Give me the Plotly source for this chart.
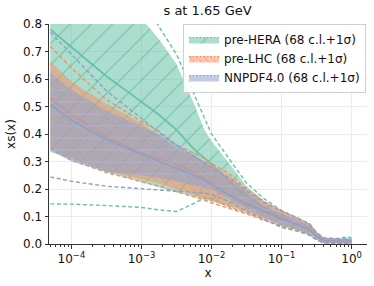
import plotly.graph_objects as go

# x grid (log spaced sample points)
X = [5e-5, 1e-4, 3.16e-4, 1e-3, 1.78e-3, 3.16e-3, 5.62e-3, 7.94e-3, 1e-2, 1.78e-2,
     3.16e-2, 5.62e-2, 0.1, 0.178, 0.251, 0.316, 0.398, 0.631, 0.891, 1.0]

X_TICKS = [1e-4, 1e-3, 1e-2, 1e-1, 1.0]
X_TICK_TEXT = ["10<sup>−4</sup>", "10<sup>−3</sup>", "10<sup>−2</sup>", "10<sup>−1</sup>", "10<sup>0</sup>"]

# pre-HERA
HERA_c   = [0.78, 0.715, 0.61, 0.517, 0.47, 0.415, 0.345, 0.312, 0.29, 0.23, 0.172, 0.132,
            0.095, 0.068, 0.052, 0.028, 0.012, 0.01, 0.014, 0.01]
HERA_lo  = [0.335, 0.31, 0.262, 0.225, 0.205, 0.188, 0.172, 0.162, 0.156, 0.138, 0.118, 0.092,
            0.068, 0.05, 0.035, 0.018, 0.005, 0.004, 0.006, 0.004]
HERA_hi  = [1.3, 1.15, 1.0, 0.82, 0.745, 0.655, 0.51, 0.415, 0.375, 0.295, 0.21, 0.157,
            0.118, 0.088, 0.07, 0.04, 0.02, 0.018, 0.024, 0.02]
HERA_slo = [0.146, 0.145, 0.14, 0.133, 0.124, 0.118, 0.148, 0.167, 0.166, 0.135, 0.113, 0.088,
            0.064, 0.047, 0.032, 0.016, 0.004, 0.003, 0.004, 0.003]
HERA_shi = [1.4, 1.25, 1.08, 0.9, 0.79, 0.69, 0.545, 0.455, 0.40, 0.31, 0.222, 0.165,
            0.122, 0.092, 0.073, 0.042, 0.022, 0.02, 0.026, 0.022]

# pre-LHC
LHC_c   = [0.53, 0.472, 0.39, 0.33, 0.31, 0.29, 0.262, 0.24, 0.222, 0.18, 0.148, 0.12,
           0.094, 0.069, 0.053, 0.029, 0.012, 0.011, 0.011, 0.009]
LHC_lo  = [0.35, 0.31, 0.265, 0.235, 0.22, 0.198, 0.178, 0.165, 0.156, 0.135, 0.115, 0.09,
           0.07, 0.052, 0.037, 0.02, 0.006, 0.005, 0.005, 0.004]
LHC_hi  = [0.664, 0.59, 0.51, 0.44, 0.395, 0.345, 0.32, 0.303, 0.287, 0.25, 0.195, 0.15,
           0.116, 0.086, 0.068, 0.038, 0.018, 0.016, 0.016, 0.014]
LHC_slo = [0.347, 0.305, 0.26, 0.228, 0.21, 0.19, 0.172, 0.16, 0.15, 0.13, 0.11, 0.086,
           0.067, 0.05, 0.035, 0.018, 0.005, 0.004, 0.004, 0.003]
LHC_shi = [0.719, 0.64, 0.525, 0.445, 0.41, 0.36, 0.33, 0.31, 0.293, 0.256, 0.2, 0.155,
           0.12, 0.089, 0.071, 0.04, 0.02, 0.017, 0.017, 0.015]

# NNPDF4.0
NN_c   = [0.506, 0.45, 0.38, 0.325, 0.30, 0.275, 0.25, 0.232, 0.215, 0.178, 0.145, 0.118,
          0.09, 0.068, 0.052, 0.029, 0.012, 0.011, 0.01, 0.009]
NN_lo  = [0.341, 0.30, 0.262, 0.25, 0.24, 0.228, 0.212, 0.204, 0.198, 0.165, 0.128, 0.098,
          0.066, 0.05, 0.036, 0.02, 0.006, 0.005, 0.005, 0.004]
NN_hi  = [0.625, 0.56, 0.485, 0.43, 0.40, 0.36, 0.325, 0.30, 0.28, 0.235, 0.19, 0.14,
          0.11, 0.085, 0.068, 0.038, 0.018, 0.017, 0.016, 0.014]
NN_slo = [0.244, 0.228, 0.21, 0.2, 0.196, 0.192, 0.188, 0.185, 0.18, 0.155, 0.12, 0.09,
          0.06, 0.045, 0.032, 0.016, 0.004, 0.003, 0.003, 0.003]
NN_shi = [0.77, 0.69, 0.557, 0.457, 0.405, 0.36, 0.317, 0.295, 0.28, 0.24, 0.195, 0.15,
          0.12, 0.092, 0.073, 0.042, 0.021, 0.019, 0.018, 0.016]

SETS = [
    ("pre-HERA (68 c.l.+1σ)", "#66c2a5", "rgba(102,194,165,0.55)", "#3f9c7f", "/", 15, 0.07,
     HERA_c, HERA_lo, HERA_hi, HERA_slo, HERA_shi),
    ("pre-LHC (68 c.l.+1σ)", "#fc8d62", "rgba(252,141,98,0.5)", "#fc8d62", "\\", 5, 0.2,
     LHC_c, LHC_lo, LHC_hi, LHC_slo, LHC_shi),
    ("NNPDF4.0 (68 c.l.+1σ)", "#8da0cb", "rgba(141,160,203,0.55)", "#a9b8dc", "-", 12, 0.1,
     NN_c, NN_lo, NN_hi, NN_slo, NN_shi),
]

FONT = "DejaVu Sans"

fig = go.Figure()
for name, col, fcol, hcol, shp, sz, sol, c, lo, hi, slo, shi in SETS:
    fig.add_trace(go.Scatter(x=X, y=lo, mode="lines", line=dict(width=0, color=col),
                             showlegend=False, hoverinfo="skip"))
    fig.add_trace(go.Scatter(x=X, y=hi, mode="lines", line=dict(width=0, color=col),
                             fill="tonexty", fillcolor=fcol,
                             fillpattern=dict(shape=shp, size=sz, solidity=sol,
                                              fgcolor=hcol, fillmode="overlay"),
                             showlegend=False, hoverinfo="skip"))
    fig.add_trace(go.Scatter(x=X, y=c, mode="lines", line=dict(width=1.7, color=col),
                             showlegend=False))
    for s in (slo, shi):
        fig.add_trace(go.Scatter(x=X, y=s, mode="lines",
                                 line=dict(width=1.4, color=col, dash="4px,2.5px"),
                                 showlegend=False))

# legend entries
for name, col, fcol, hcol, shp, sz, sol, *_ in SETS:
    fig.add_trace(go.Scatter(x=[None], y=[None], mode="lines", fill="toself",
                             fillcolor=fcol,
                             fillpattern=dict(shape=shp, size=sz, solidity=sol,
                                              fgcolor=hcol, fillmode="overlay"),
                             line=dict(color=col, width=1, dash="2px,1.5px"), name=name))

axis_common = dict(showline=True, linecolor="#333", linewidth=1, ticks="outside",
                   ticklen=3.5, tickcolor="#333", gridcolor="#ececec", gridwidth=0.8,
                   mirror=False, zeroline=False,
                   tickfont=dict(size=12, color="#111", family=FONT))

fig.update_xaxes(type="log", range=[-4.32, 0.22], tickvals=X_TICKS, ticktext=X_TICK_TEXT,
                 minor=dict(ticks="outside", ticklen=2, tickcolor="#333", dtick="D1",
                            showgrid=False),
                 title=dict(text="x", font=dict(size=12, family=FONT, color="#111"),
                            standoff=2),
                 **axis_common)
fig.update_yaxes(range=[0, 0.8], dtick=0.1, tickformat=".1f",
                 title=dict(text="xs(x)", font=dict(size=12, family=FONT, color="#111"),
                            standoff=4),
                 **axis_common)

fig.update_layout(
    width=374, height=286,
    margin=dict(l=49, r=7, t=24, b=42),
    paper_bgcolor="white", plot_bgcolor="white",
    title=dict(text="s at 1.65 GeV", x=0.555, xanchor="center", y=0.962, yanchor="middle",
               font=dict(size=13, family=FONT, color="#111")),
    legend=dict(x=0.997, y=1.0, xanchor="right", yanchor="top", traceorder="normal",
                bgcolor="rgba(255,255,255,0.85)", bordercolor="#d0d0d0", borderwidth=1,
                font=dict(size=12, family=FONT, color="#111"),
                tracegroupgap=0, itemwidth=30),
    showlegend=True,
)

fig.write_html("out.html", config={"displayModeBar": False},
               post_script="document.body.style.margin='0';document.body.style.padding='0';")
